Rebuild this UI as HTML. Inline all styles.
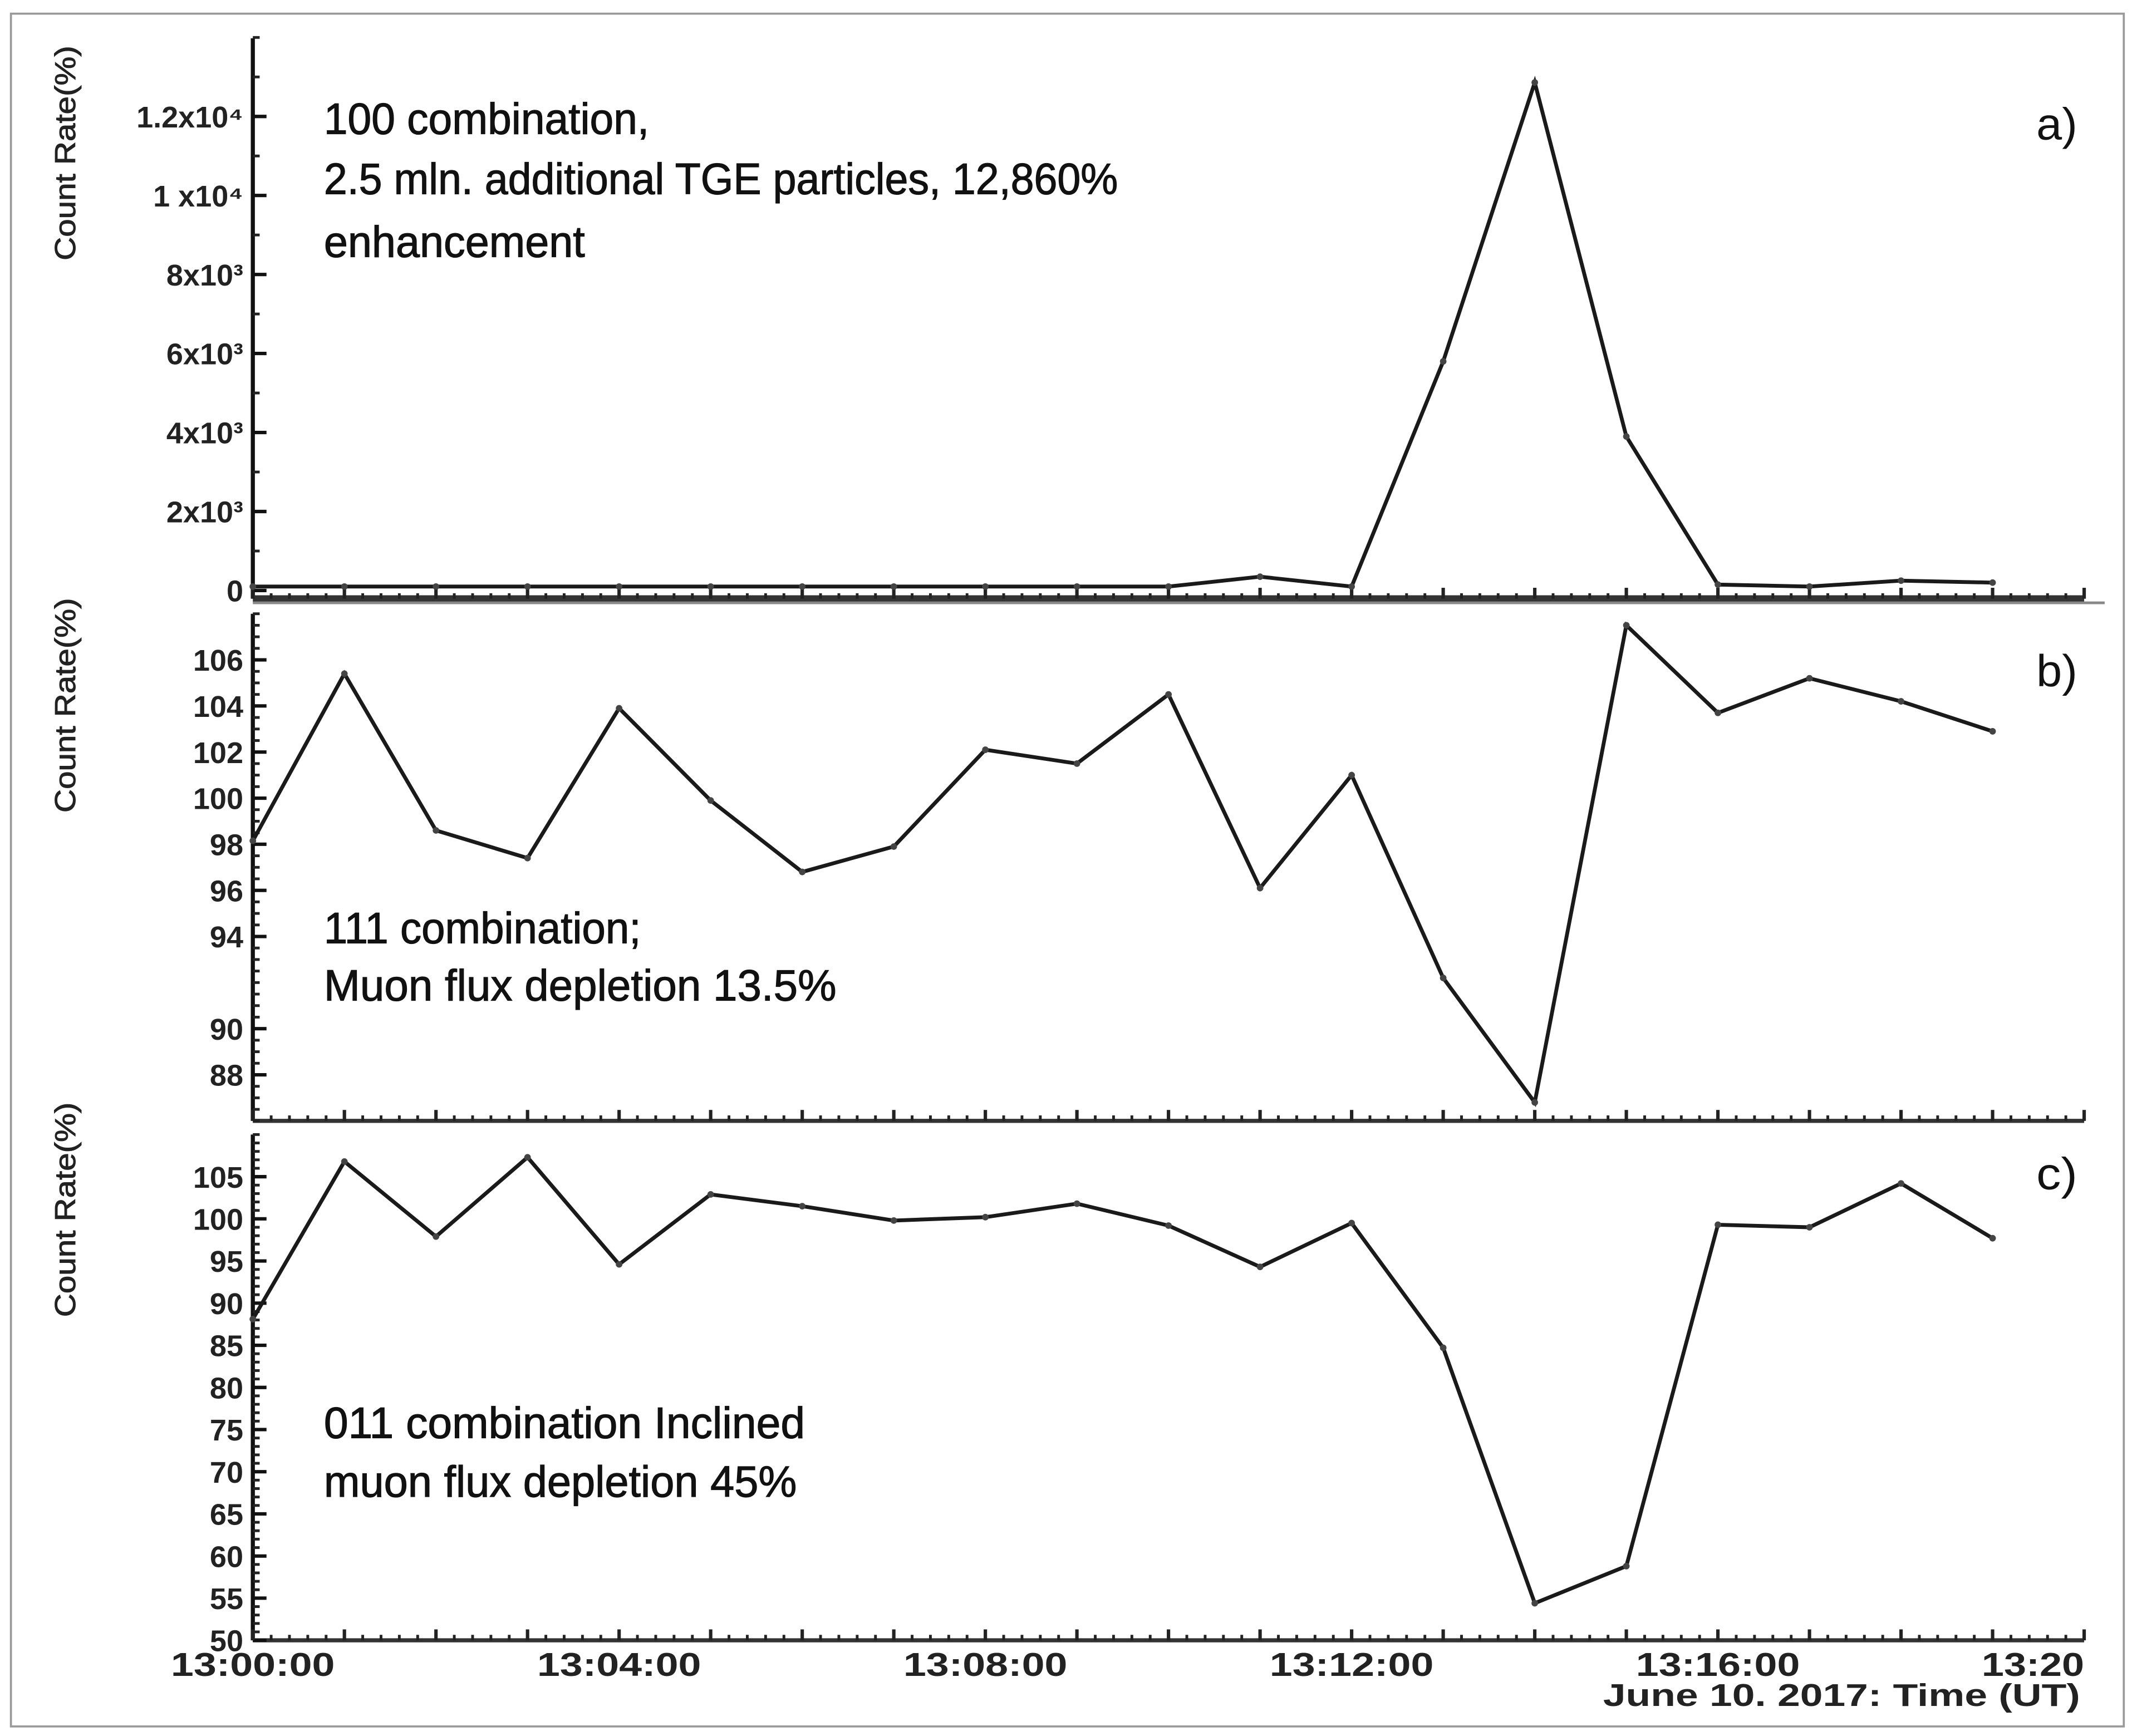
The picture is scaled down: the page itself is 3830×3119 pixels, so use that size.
<!DOCTYPE html>
<html><head><meta charset="utf-8"><style>
html,body{margin:0;padding:0;background:#fff;}
svg{display:block;}
</style></head><body>
<svg id="chart" width="3830" height="3119" viewBox="0 0 1560 1270" preserveAspectRatio="none" xmlns="http://www.w3.org/2000/svg">
<rect x="8" y="10" width="1546" height="1253" fill="#fff" stroke="#999" stroke-width="1.5"/>
<g id="layer"></g>
</svg>
<script>
const minutes = [0,1,2,3,4,5,6,7,8,9,10,11,12,13,14,15,16,17,18,19];
const seriesA = [100,100,100,100,100,100,100,100,100,100,100,350,100,5800,12860,3900,150,100,250,200];
const seriesB = [98.15,105.4,98.6,97.4,103.9,99.9,96.8,97.9,102.1,101.5,104.5,96.1,101.0,92.2,86.8,107.5,103.7,105.2,104.2,102.9];
const seriesC = [88.1,106.8,97.9,107.3,94.6,102.9,101.5,99.8,100.2,101.8,99.2,94.3,99.5,84.7,54.4,58.8,99.3,99.0,104.2,97.7];
const ticksA = [0,2000,4000,6000,8000,10000,12000];
const tickLabelsA = ["0","2x10\u00B3","4x10\u00B3","6x10\u00B3","8x10\u00B3","1 x10\u2074","1.2x10\u2074"];
const ticksB = [88,90,94,96,98,100,102,104,106];
const ticksC = [50,55,60,65,70,75,80,85,90,95,100,105];
const xTickMinutes = [0,4,8,12,16,20];
const xTickLabels = ["13:00:00","13:04:00","13:08:00","13:12:00","13:16:00","13:20"];

const NS="http://www.w3.org/2000/svg";
const layer=document.getElementById('layer');
function mk(tag,attrs,parent){const e=document.createElementNS(NS,tag);for(const k in attrs)e.setAttribute(k,attrs[k]);(parent||layer).appendChild(e);return e;}
const X0=185,X1=1525;
const xs=m=>X0+(X1-X0)*m/20;

const panels=[
 {id:'a',top:28,bot:438,vmin:0,vmax:14000,zeroY:432,vals:seriesA,ticks:ticksA,labels:tickLabelsA,minor:1000,lab:'a)',labY:102,
  text:["100 combination,","2.5 mln. additional TGE particles, 12,860%","enhancement"],textLen:[238,581,191],textY:[98,142,188],titleY:112},
 {id:'b',top:449,bot:820,vmin:86,vmax:108,vals:seriesB,ticks:ticksB,labels:null,minor:0.5,lab:'b)',labY:502,
  text:["111 combination;","Muon flux depletion 13.5%"],textLen:[232,375],textY:[690,732],titleY:516},
 {id:'c',top:830,bot:1200,vmin:50,vmax:110,vals:seriesC,ticks:ticksC,labels:null,minor:1,lab:'c)',labY:870,
  text:["011 combination Inclined","muon flux depletion 45%"],textLen:[352,346],textY:[1052,1095],titleY:885}
];
panels.forEach(p=>{
  const ys = p.id==='a' ? (v=>p.zeroY-(v/2000)*57.8) : (v=>p.bot-(v-p.vmin)/(p.vmax-p.vmin)*(p.bot-p.top));
  const g=mk('g',{});
  
  
  const ya=mk('line',{x1:X0,y1:p.top,x2:X0,y2:p.bot,stroke:'#111','stroke-width':3},g);
  
  
  const xa=mk('line',{x1:X0,y1:p.bot,x2:X1,y2:p.bot,stroke:'#333','stroke-width':p.id==='a'?5:3},g);
  
  
  if(p.id==='a'){
    const sep=mk('line',{x1:X0,y1:441,x2:1540,y2:441,stroke:'#888','stroke-width':2},g);
    
    
  }
  for(let v=p.vmin;v<=p.vmax+1e-9;v+=p.minor){const y=ys(v);if(y<p.top-1||y>p.bot)continue;
    mk('line',{x1:X0,y1:y,x2:X0+5,y2:y,stroke:'#222','stroke-width':2},g);}
  p.ticks.forEach((t,i)=>{
    const y=ys(t);
    mk('line',{x1:X0,y1:y,x2:X0+10,y2:y,stroke:'#111','stroke-width':2.5},g);
    const lbl=p.labels?p.labels[i]:String(t);
    const tx=mk('text',{x:X0-7,y:y+8,'text-anchor':'end','font-family':'Liberation Sans, sans-serif','font-weight':'bold','font-size':22,fill:'#222'},g);
    tx.textContent=lbl;
    
    
  });
  for(let k=0;k<=100;k++){const x=X0+(X1-X0)*k/100;const major=k%5===0;
    mk('line',{x1:x,y1:p.bot,x2:x,y2:p.bot-(major?8:4),stroke:'#222','stroke-width':major?2.5:2},g);}
  const pts=minutes.map((m,i)=>xs(m)+','+ys(p.vals[i])).join(' ');
  const line=mk('polyline',{points:pts,fill:'none',stroke:'#1a1a1a','stroke-width':2.8,'stroke-linejoin':'miter'},g);
  
  
  minutes.forEach((m,i)=>{
    const c=mk('circle',{cx:xs(m),cy:ys(p.vals[i]),r:2.4,fill:'#444'},g);
    
    
  });
  const tl=mk('text',{x:1520,y:p.labY,'text-anchor':'end','font-family':'Liberation Sans, sans-serif','font-size':33,fill:'#111',textLength:30,lengthAdjust:'spacingAndGlyphs'},g);
  tl.textContent=p.lab;
  
  
  p.text.forEach((t,i)=>{
    const a=mk('text',{x:237,y:p.textY[i],'font-family':'Liberation Sans, sans-serif','font-size':32,fill:'#111',stroke:'#111','stroke-width':0.5,textLength:p.textLen[i],lengthAdjust:'spacingAndGlyphs'},g);
    a.textContent=t;
    
    
  });
  const yt=mk('text',{x:0,y:0,transform:'translate(55,'+p.titleY+') rotate(-90)','text-anchor':'middle','font-family':'Liberation Sans, sans-serif','font-size':21,fill:'#222',stroke:'#222','stroke-width':0.4,textLength:157,lengthAdjust:'spacingAndGlyphs'},g);
  yt.textContent='Count Rate(%)';
  
  
});
xTickMinutes.forEach((m,i)=>{
  const last=i===xTickMinutes.length-1;
  const t=mk('text',{x:last?1450:xs(m)-60,y:1226,'font-family':'Liberation Sans, sans-serif','font-weight':'bold','font-size':24,fill:'#222',textLength:last?75:120,lengthAdjust:'spacingAndGlyphs'});
  t.textContent=xTickLabels[i];
  
  
});
const xt=mk('text',{x:1173,y:1248,'font-family':'Liberation Sans, sans-serif','font-weight':'bold','font-size':23,fill:'#222',textLength:349,lengthAdjust:'spacingAndGlyphs'});
xt.textContent='June 10. 2017: Time (UT)';


</script>
</body></html>
